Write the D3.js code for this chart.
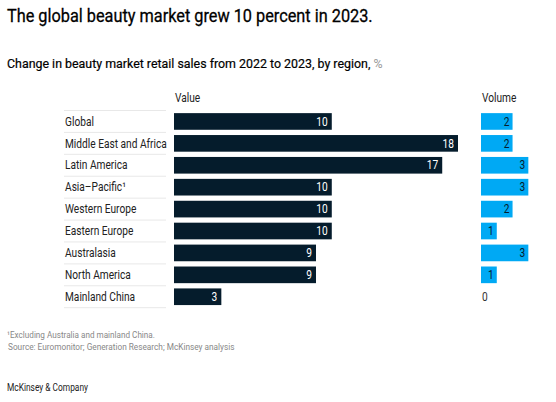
<!DOCTYPE html>
<html>
<head>
<meta charset="utf-8">
<script src="https://cdn.jsdelivr.net/npm/d3@7"></script>
<style>
  body { margin: 0; background: #fff; }
  svg { font-family: Roboto, "Liberation Sans", sans-serif; }
</style>
</head>
<body>
<div id="chart"></div>
<script>
// données
const regions = ["Global", "Middle East and Africa", "Latin America", "Asia\u2013Pacific\u00b9",
    "Western Europe", "Eastern Europe", "Australasia", "North America", "Mainland China"];
const valueGrowth = [10, 18, 17, 10, 10, 10, 9, 9, 3];
const volumeGrowth = [2, 2, 3, 3, 2, 1, 3, 1, 0];

const W = 556, H = 402;
const navy = "#051c2c", blue = "#00a9f4";

const svg = d3.select("#chart").append("svg")
    .attr("width", W)
    .attr("height", H);

// police étroite : on écrase horizontalement le texte
function place(sel, x, y, k) {
    sel.attr("transform", "translate(" + x + "," + y + ") scale(" + k + ",1)");
}
function fit(sel, x, y, target) {
    const w = sel.node().getComputedTextLength();
    place(sel, x, y, target / w);
    return target / w;
}

// titres
const title = svg.append("text")
    .attr("font-size", 19)
    .attr("fill", "#000")
    .attr("stroke", "#000")
    .attr("stroke-width", 0.3)
    .text("The global beauty market grew 10 percent in 2023.");
fit(title, 7, 22, 366);

const sub = svg.append("text")
    .attr("font-size", 13.5)
    .attr("fill", "#000")
    .attr("stroke", "#000")
    .attr("stroke-width", 0.2);
sub.append("tspan").text("Change in beauty market retail sales from 2022 to 2023, by region, ");
sub.append("tspan").attr("fill", "#999").attr("stroke", "none").text("%");
fit(sub, 7, 68, 376);

// échelles
const y = d3.scaleBand()
    .domain(regions)
    .range([110.5, 307.7])
    .paddingInner(0.24)
    .paddingOuter(0.12);

const x = d3.scaleLinear()
    .domain([0, 18])
    .range([0, 284]);

const valueX0 = 174, volumeX0 = 481;
const step = y.step();

// largeur de référence pour les petits textes
const probe = svg.append("text").attr("font-size", 12).text("Middle East and Africa");
const k = 102 / probe.node().getComputedTextLength();
probe.remove();

// en-têtes de colonnes
place(svg.append("text").attr("font-size", 12).attr("fill", "#222").text("Value"), valueX0 + 1, 102, k);
place(svg.append("text").attr("font-size", 12).attr("fill", "#222").text("Volume"), volumeX0 + 1, 102, k);

// séparateurs des libellés
const seps = d3.range(regions.length + 1);
svg.selectAll(".sep")
    .data(seps)
    .enter().append("line")
    .attr("class", "sep")
    .attr("x1", 64).attr("x2", 166)
    .attr("y1", i => 110.5 + i * step)
    .attr("y2", i => 110.5 + i * step)
    .attr("stroke", "#e8e8e8")
    .attr("stroke-width", 1);

// libellés des régions
svg.selectAll(".label")
    .data(regions)
    .enter().append("text")
    .attr("class", "label")
    .attr("transform", d => "translate(65," + (y(d) + y.bandwidth() / 2) + ") scale(" + k + ",1)")
    .attr("dy", "0.35em")
    .attr("font-size", 12)
    .attr("fill", "#222")
    .text(d => d);

const rows = regions.map((r, i) => ({name: r, value: valueGrowth[i], volume: volumeGrowth[i]}));

// barres valeur
svg.selectAll(".bar")
    .data(rows)
    .enter().append("rect")
    .attr("class", "bar")
    .attr("x", valueX0)
    .attr("y", d => y(d.name))
    .attr("width", d => x(d.value))
    .attr("height", y.bandwidth())
    .attr("fill", navy);

svg.selectAll(".bar-label")
    .data(rows)
    .enter().append("text")
    .attr("class", "bar-label")
    .attr("transform", d => "translate(" + (valueX0 + x(d.value) - 4) + "," + (y(d.name) + y.bandwidth() / 2) + ") scale(" + k + ",1)")
    .attr("dy", "0.35em")
    .attr("text-anchor", "end")
    .attr("font-size", 12)
    .attr("fill", "#fff")
    .text(d => d.value);

// barres volume
svg.selectAll(".vol")
    .data(rows.filter(d => d.volume > 0))
    .enter().append("rect")
    .attr("class", "vol")
    .attr("x", volumeX0)
    .attr("y", d => y(d.name))
    .attr("width", d => x(d.volume))
    .attr("height", y.bandwidth())
    .attr("fill", blue);

svg.selectAll(".vol-label")
    .data(rows)
    .enter().append("text")
    .attr("class", "vol-label")
    .attr("transform", d => "translate(" + (d.volume > 0 ? volumeX0 + x(d.volume) - 3 : volumeX0 + 1) + "," + (y(d.name) + y.bandwidth() / 2) + ") scale(" + k + ",1)")
    .attr("dy", "0.35em")
    .attr("text-anchor", d => d.volume > 0 ? "end" : "start")
    .attr("font-size", 12)
    .attr("fill", d => d.volume > 0 ? navy : "#333")
    .text(d => d.volume);

// notes
fit(svg.append("text").attr("font-size", 9).attr("fill", "#888")
    .text("\u00b9Excluding Australia and mainland China."), 7, 338, 148);
fit(svg.append("text").attr("font-size", 9).attr("fill", "#888")
    .text("Source: Euromonitor; Generation Research; McKinsey analysis"), 8, 350, 227);

fit(svg.append("text").attr("font-size", 10).attr("fill", "#222")
    .text("McKinsey & Company"), 7, 391, 81);
</script>
</body>
</html>
